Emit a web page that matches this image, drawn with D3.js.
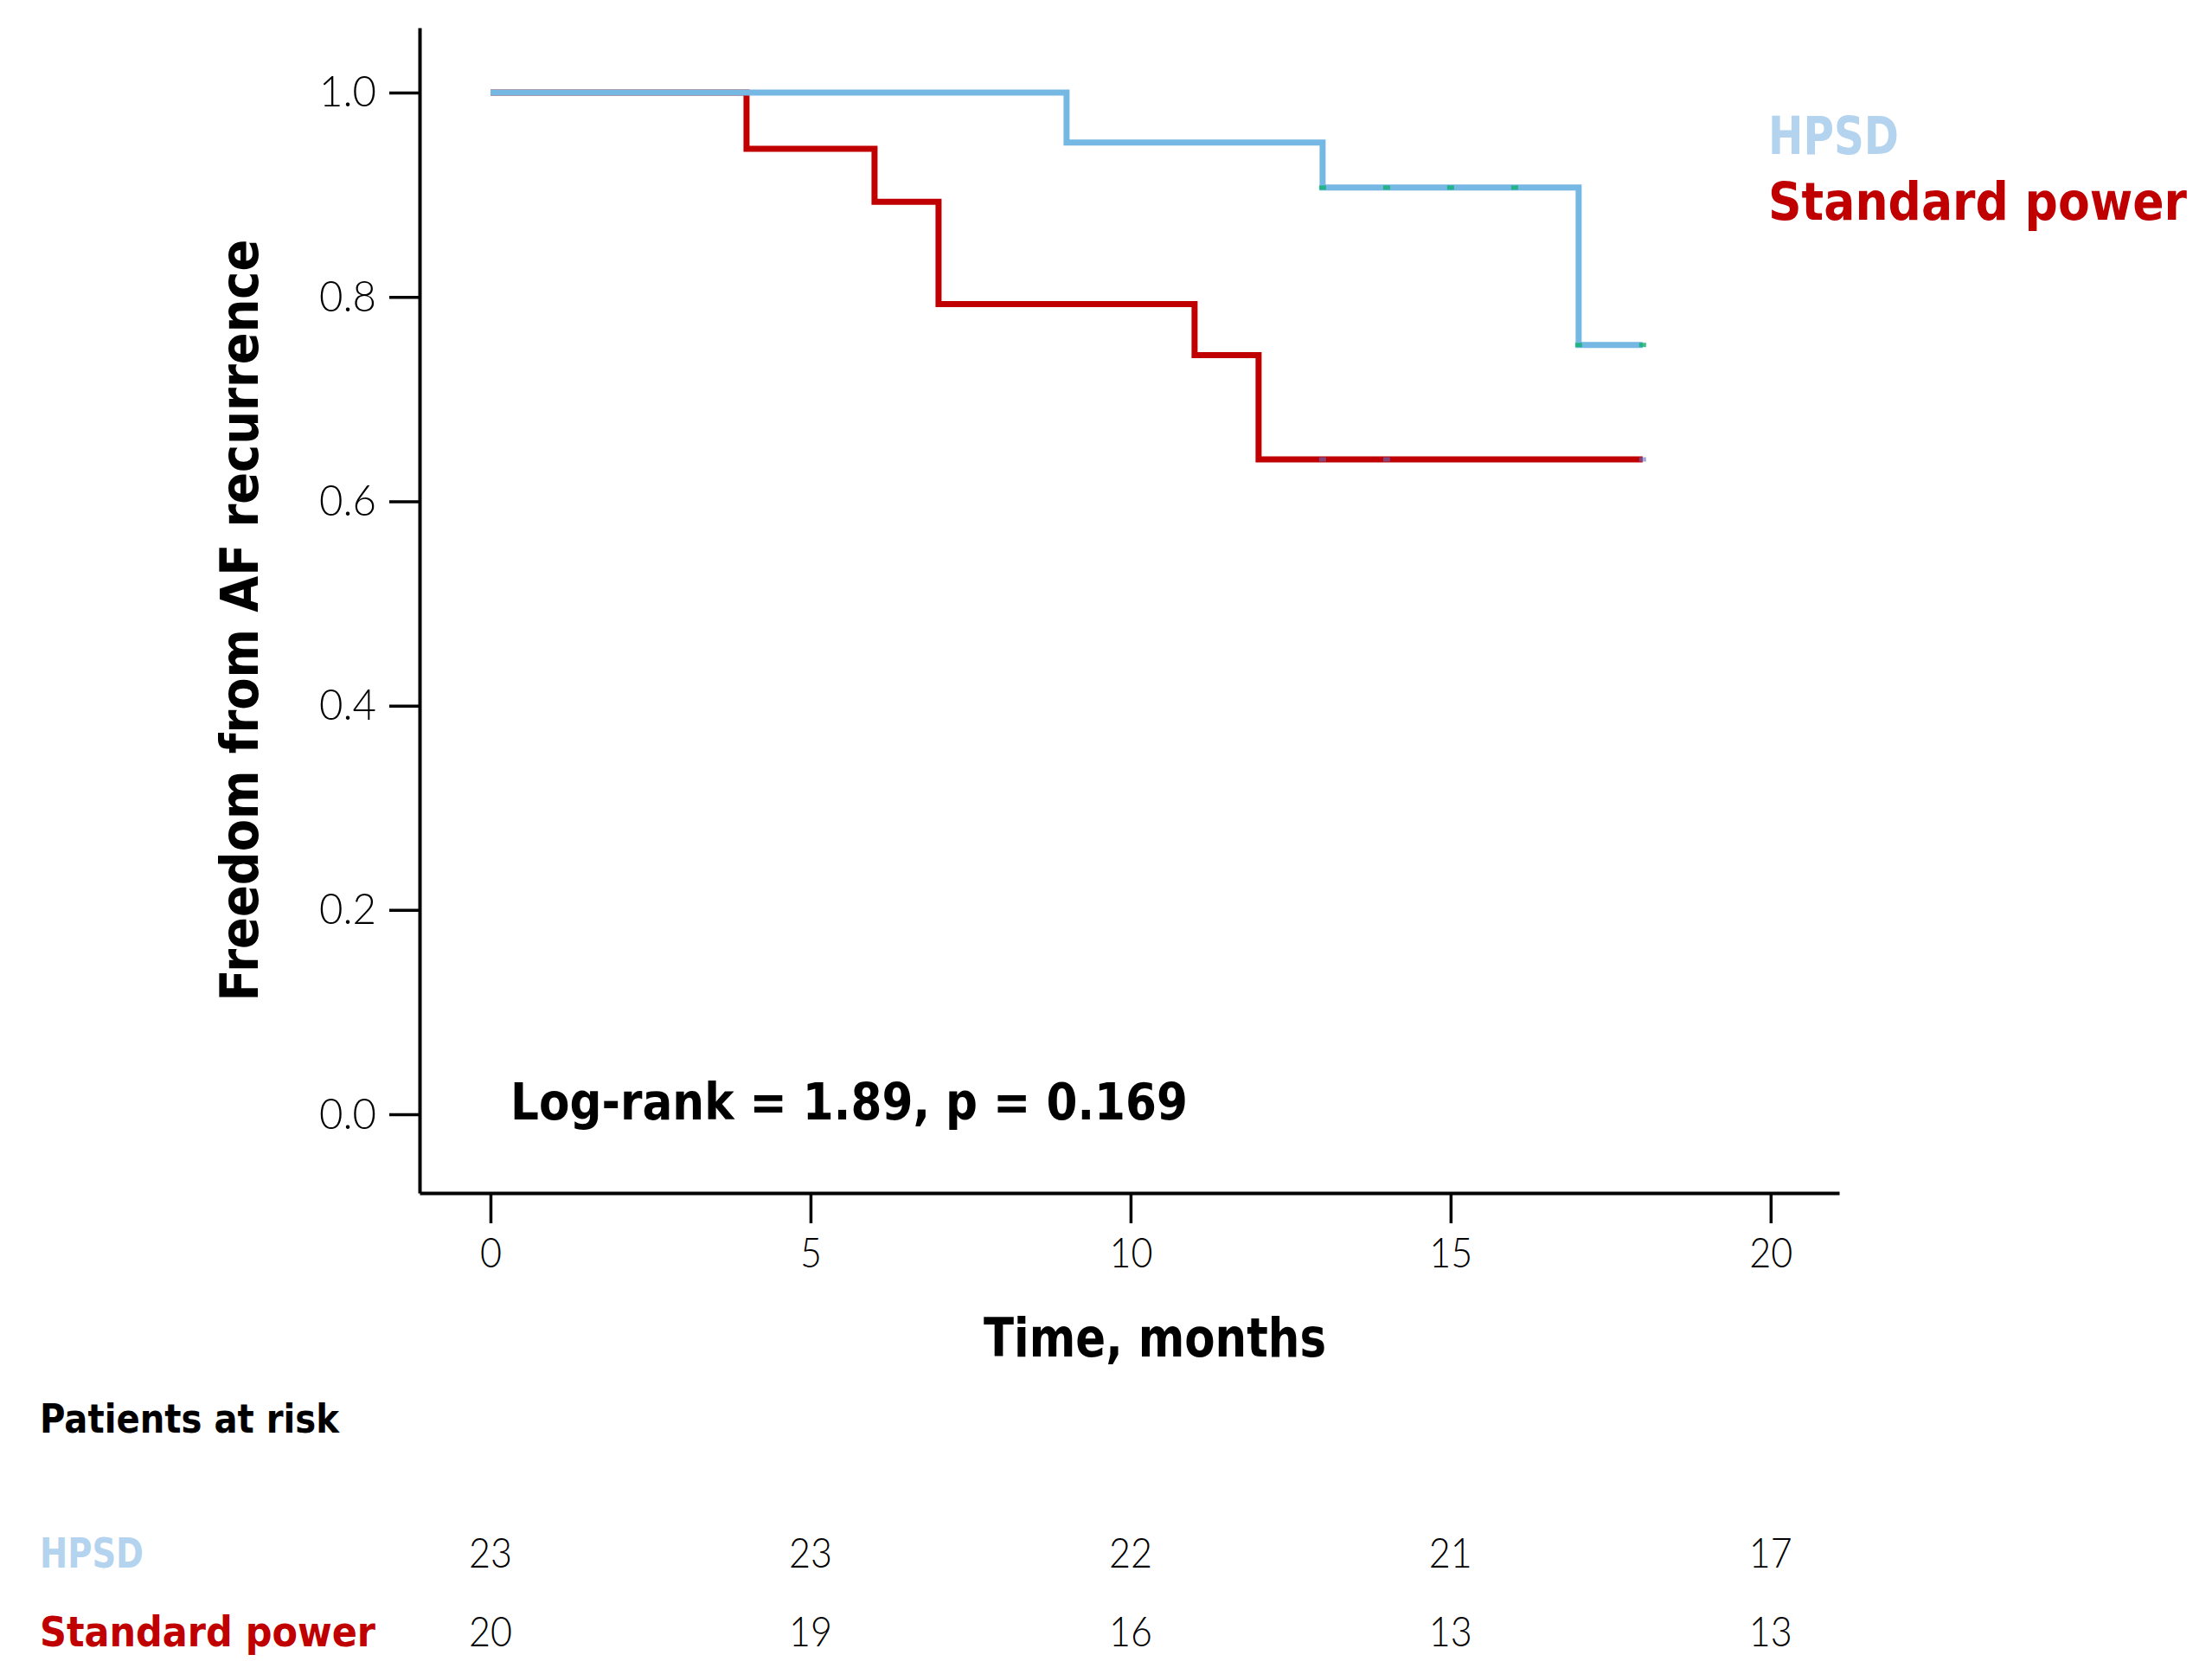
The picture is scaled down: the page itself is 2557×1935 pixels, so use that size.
<!DOCTYPE html>
<html>
<head>
<meta charset="utf-8">
<script src="https://cdn.jsdelivr.net/npm/d3@7"></script>
<style>
  body { margin: 0; background: #fff; }
  svg { display: block; }
</style>
</head>
<body>
<script>
// Kaplan-Meier steps
var hpsdTimes = [0, 9, 13, 17, 18];
var hpsdSurv = [1.0, 0.951, 0.907, 0.753, 0.753];
var hpsdCensor = [13, 14, 15, 16, 17, 18];

var stdTimes = [0, 4, 6, 7, 11, 12, 18];
var stdSurv = [1.0, 0.945, 0.893, 0.793, 0.743, 0.641, 0.641];
var stdCensor = [13, 14, 18];

var xTicks = [0, 5, 10, 15, 20];
var yTicks = [0, 0.2, 0.4, 0.6, 0.8, 1.0];

var riskTimes = [0, 5, 10, 15, 20];
var hpsdRisk = [23, 23, 22, 21, 17];
var stdRisk = [20, 19, 16, 13, 13];

var blue = "#76b8e4", blueText = "#b3d3ee", red = "#c00000";
var W = 2557, H = 1935;

var svg = d3.select("body").append("svg").attr("width", W).attr("height", H);

var x = d3.scaleLinear().domain([-1.108, 21.07]).range([485, 2126]);
var y = d3.scaleLinear().domain([-0.077, 1.0635]).range([1379, 32]);

function zip(t, s){ return t.map(function(d, i){ return {t: d, s: s[i]}; }); }
function survAt(t, times, surv){
    var v = surv[0];
    times.forEach(function(d, i){ if (d <= t) v = surv[i]; });
    return v;
}

// squeeze text to a measured width (the source font is narrow)
function label(g, txt, px, py, size, weight, color, width, anchor){
    return g.append("text").text(txt)
        .attr("x", px).attr("y", py)
        .attr("font-family", "DejaVu Sans, sans-serif")
        .attr("font-size", size).attr("font-weight", weight)
        .attr("fill", color).attr("text-anchor", anchor || "start")
        .attr("textLength", width).attr("lengthAdjust", "spacingAndGlyphs");
}

// axes
var yAxis = svg.append("g").attr("transform", "translate(485,0)")
    .call(d3.axisLeft(y).tickValues(yTicks).tickFormat(d3.format(".1f")).tickSize(35).tickSizeOuter(0).tickPadding(15));
var xAxis = svg.append("g").attr("transform", "translate(0,1379)")
    .call(d3.axisBottom(x).tickValues(xTicks).tickSize(35).tickSizeOuter(0).tickPadding(18));

[yAxis, xAxis].forEach(function(a){
    a.select(".domain").attr("stroke", "#000").attr("stroke-width", 4);
    a.selectAll(".tick line").attr("stroke", "#000").attr("stroke-width", 3.5);
    a.selectAll("text").attr("fill", "#000")
        .attr("font-family", "Lato, DejaVu Sans, sans-serif").attr("font-weight", 300)
        .attr("lengthAdjust", "spacingAndGlyphs");
});
yAxis.selectAll("text").attr("font-size", 50).attr("textLength", 66);
xAxis.selectAll("text").attr("font-size", 47)
    .attr("textLength", function(d){ return String(d).length * 25; });

// survival curves
var line = d3.line()
    .x(function(d){ return x(d.t); })
    .y(function(d){ return y(d.s); })
    .curve(d3.curveStepAfter);

var curves = svg.append("g").attr("fill", "none").attr("stroke-width", 7);
curves.append("path").datum(zip(stdTimes, stdSurv)).attr("d", line).attr("stroke", red);
curves.append("path").datum(zip(hpsdTimes, hpsdSurv)).attr("d", line).attr("stroke", blue);

// censor marks
svg.append("g").selectAll("rect.hc").data(hpsdCensor).enter().append("rect")
    .attr("x", function(d){ return x(d) - 4; })
    .attr("y", function(d){ return y(survAt(d, hpsdTimes, hpsdSurv)) - 2.5; })
    .attr("width", 8).attr("height", 5).attr("fill", "#10b070").attr("opacity", 0.8);
svg.append("g").selectAll("rect.sc").data(stdCensor).enter().append("rect")
    .attr("x", function(d){ return x(d) - 4; })
    .attr("y", function(d){ return y(survAt(d, stdTimes, stdSurv)) - 2.5; })
    .attr("width", 8).attr("height", 5).attr("fill", "#6070c8").attr("opacity", 0.6);

// titles
var yt = svg.append("g").attr("transform", "translate(298,717) rotate(-90)");
label(yt, "Freedom from AF recurrence", 0, 0, 60, "bold", "#000", 881, "middle");
label(svg, "Time, months", 1137, 1568, 62, "bold", "#000", 396);
label(svg, "Log-rank = 1.89, p = 0.169", 590, 1294, 59, "bold", "#000", 783);

// legend (stretched vertically so the unsqueezed text stays inside the page)
label(svg, "HPSD", 2044, 178, 60, "bold", blueText, 151);
var lg = svg.append("g").attr("transform", "translate(2044,254) scale(1,1.2)");
label(lg, "Standard power", 0, 0, 50, "bold", red, 484);

// patients at risk table
label(svg, "Patients at risk", 46, 1656, 47, "bold", "#000", 346);
label(svg, "HPSD", 46, 1812, 48, "bold", blueText, 120);
label(svg, "Standard power", 46, 1903, 48, "bold", red, 388);

var rows = [{vals: hpsdRisk, y: 1812}, {vals: stdRisk, y: 1903}];
rows.forEach(function(r){
    svg.append("g").selectAll("text").data(r.vals).enter().append("text")
        .text(function(d){ return d; })
        .attr("x", function(d, i){ return x(riskTimes[i]); })
        .attr("y", r.y)
        .attr("text-anchor", "middle")
        .attr("font-family", "Lato, DejaVu Sans, sans-serif").attr("font-weight", 300)
        .attr("font-size", 48).attr("fill", "#000")
        .attr("textLength", function(d){ return String(d).length * 25; })
        .attr("lengthAdjust", "spacingAndGlyphs");
});
</script>
</body>
</html>
